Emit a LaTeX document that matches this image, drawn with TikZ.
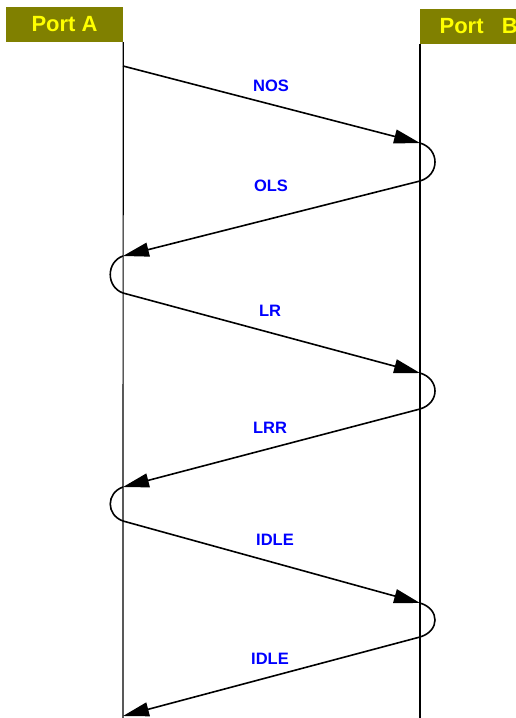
\documentclass[tikz,border=0pt]{standalone}
\usepackage{fontspec}
\setmainfont{Liberation Sans}
\usetikzlibrary{arrows.meta,calc}
\definecolor{portolive}{RGB}{128,128,0}
\definecolor{portyellow}{RGB}{255,255,0}
\definecolor{msgblue}{RGB}{0,0,255}

\newcommand{\bounce}[3]{% #1: tip of incoming arrow
                        % #2: start of outgoing arrow
                        % #3: bulge (+ right, - left)
  \draw[msgline] (#1) .. controls ($(#1)+(#3,6)$) and ($(#2)+(#3,-6)$) .. (#2);
}

\begin{document}
\begin{tikzpicture}[x=1pt,y=-1pt,
  portbox/.style={fill=portolive, text=portyellow, font=\fontsize{22}{22}\bfseries\selectfont,
                  minimum width=117pt, minimum height=35pt, inner sep=0pt},
  lifeline/.style={line width=1.2pt},
  msgline/.style={line width=1.6pt},
  msg/.style={msgline,-{Triangle[length=26pt,width=14pt]}},
  msglabel/.style={text=msgblue, font=\fontsize{16.5}{16.5}\bfseries\selectfont}]

\useasboundingbox (0,0) rectangle (515,718);

\def\xa{123};\def\xb{420};\def\ybot{718};

% ports
\node (portA) [portbox] at (64.5,24.5) {Port A};
\node (portB) [portbox, anchor=west] at (\xb,26) {Port~~~B};

\coordinate (endA) at (\xa,\ybot);
\coordinate (endB) at (\xb,\ybot);
\draw[lifeline] (portA.south east)--(endA);
\draw[lifeline] (portB.south west)--(endB);

% points on the lifelines
\coordinate (a_1) at (\xa,66);
\coordinate (b_1) at (\xb,143);
\coordinate (b_2) at (\xb,181);
\coordinate (a_2) at (\xa,256);
\coordinate (a_3) at (\xa,293);
\coordinate (b_3) at (\xb,373);
\coordinate (b_4) at (\xb,409);
\coordinate (a_4) at (\xa,487);
\coordinate (a_5) at (\xa,521);
\coordinate (b_5) at (\xb,603);
\coordinate (b_6) at (\xb,637);
\coordinate (a_6) at (\xa,716);

% messages
\draw[msg] (a_1)--(b_1);
\draw[msg] (b_2)--(a_2);
\draw[msg] (a_3)--(b_3);
\draw[msg] (b_4)--(a_4);
\draw[msg] (a_5)--(b_5);
\draw[msg] (b_6)--(a_6);

\bounce{b_1}{b_2}{20}
\bounce{a_2}{a_3}{-17}
\bounce{b_3}{b_4}{20}
\bounce{a_4}{a_5}{-17}
\bounce{b_5}{b_6}{20}

% labels
\node (l_1) [msglabel] at (271,86) {NOS};
\node (l_2) [msglabel] at (271,186) {OLS};
\node (l_3) [msglabel] at (270,311) {LR};
\node (l_4) [msglabel] at (270,428) {LRR};
\node (l_5) [msglabel] at (275,540) {IDLE};
\node (l_6) [msglabel] at (270,659) {IDLE};
\end{tikzpicture}
\end{document}
